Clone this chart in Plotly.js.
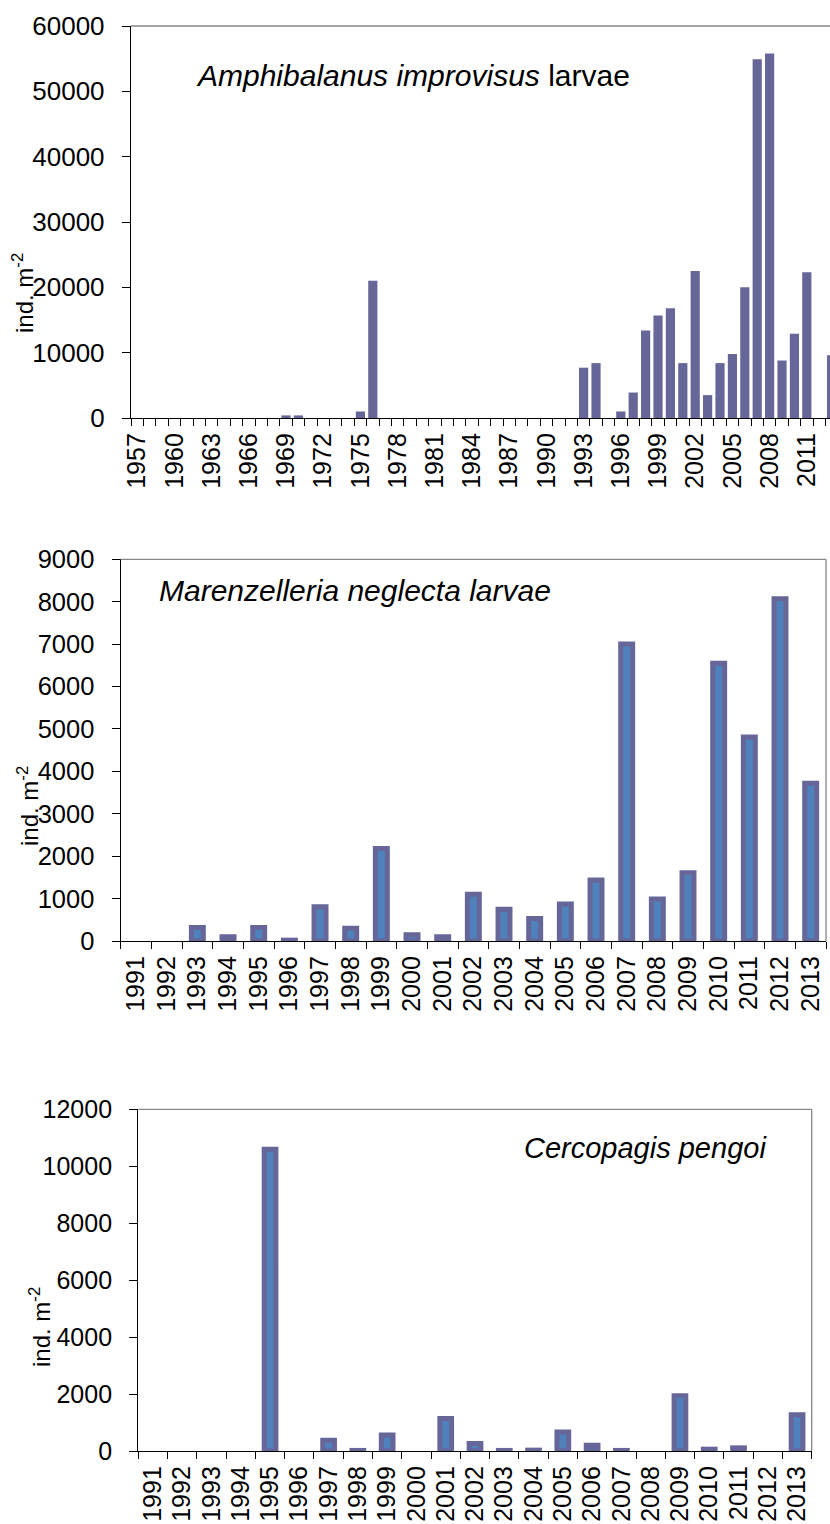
<!DOCTYPE html>
<html>
<head>
<meta charset="utf-8">
<script src="https://cdn.plot.ly/plotly-3.0.1.min.js"></script>
<style>html,body{margin:0;padding:0;background:#fff;}#chart{width:830px;height:1524px;}</style>
</head>
<body>
<div id="chart"></div>
<script>
// ---------- DATA ----------
const yearsAmph = ["1957","1958","1959","1960","1961","1962","1963","1964","1965","1966","1967","1968","1969","1970","1971","1972","1973","1974","1975","1976","1977","1978","1979","1980","1981","1982","1983","1984","1985","1986","1987","1988","1989","1990","1991","1992","1993","1994","1995","1996","1997","1998","1999","2000","2001","2002","2003","2004","2005","2006","2007","2008","2009","2010","2011","2012","2013"];
const amphValues = [0,0,0,0,0,0,0,0,0,0,0,0,400,400,0,0,0,0,1000,21000,0,0,0,0,0,0,0,0,0,0,0,0,0,0,0,0,7700,8400,0,1000,3900,13400,15700,16800,8400,22500,3500,8400,9800,20000,54900,55800,8800,12900,22300,0,9600];
const amphTickLabels = ["1957","1960","1963","1966","1969","1972","1975","1978","1981","1984","1987","1990","1993","1996","1999","2002","2005","2008","2011"];

const yearsRecent = ["1991","1992","1993","1994","1995","1996","1997","1998","1999","2000","2001","2002","2003","2004","2005","2006","2007","2008","2009","2010","2011","2012","2013"];
const marValues = [0,0,320,100,320,20,810,300,2180,150,100,1100,750,530,870,1440,7000,990,1610,6550,4810,8070,3720];
const cerValues = [0,0,0,0,10600,0,380,20,560,0,1140,260,20,30,670,200,20,0,1940,64,110,0,1270];

const titleAmph = "<i>Amphibalanus improvisus</i> larvae";
const titleMar = "<i>Marenzelleria neglecta larvae</i>";
const titleCer = "<i>Cercopagis pengoi</i>";
const yTitle = "ind. m<sup>-2</sup>";

// ---------- LAYOUT HELPERS ----------
const W = 830, H = 1524;
const px = v => v / W;
const py = v => 1 - v / H;
const FONT = "Arial, 'Liberation Sans', sans-serif";

const amphTickText = yearsAmph.map(y => amphTickLabels.includes(y) ? y : " ");
// zero values are drawn as no bar at all
const noZero = arr => arr.map(v => v === 0 ? null : v);

const traces = [
  {type:'bar', x: yearsAmph, y: noZero(amphValues), xaxis:'x', yaxis:'y',
   marker:{color:'#666699', line:{width:0}}, width:0.74},
  {type:'bar', x: yearsRecent, y: noZero(marValues), xaxis:'x2', yaxis:'y2',
   marker:{color:'#4F81BD', line:{width:5, color:'#666699'}}, width:0.39, cliponaxis:false},
  {type:'bar', x: yearsRecent, y: noZero(cerValues), xaxis:'x3', yaxis:'y3',
   marker:{color:'#4F81BD', line:{width:5, color:'#666699'}}, width:0.40, cliponaxis:false}
];

function xAx(domain, anchor, vals, text, range, size) {
  const a = {
    domain: domain, anchor: anchor, type:'category',
    tickvals: vals, ticktext: text, tickangle: -90, tickson:'boundaries',
    ticks:'outside', ticklen:7, tickwidth:1, tickcolor:'#000',
    showline:true, linecolor:'#000', linewidth:1.2, showgrid:false, zeroline:false,
    tickfont:{family:FONT, size:size, color:'#000'}, ticklabelstandoff:4, fixedrange:true
  };
  if (range) a.range = range;
  return a;
}
function yAx(domain, anchor, max, dtick, size) {
  return {
    domain: domain, anchor: anchor, range:[0,max], dtick: dtick, tick0:0,
    tickformat:'d', ticks:'outside', ticklen:8, tickwidth:1, tickcolor:'#000',
    showline:true, linecolor:'#000', linewidth:1.2, showgrid:false, zeroline:false,
    tickfont:{family:FONT, size:size, color:'#000'}, ticklabelstandoff:12, fixedrange:true
  };
}

const border = (xr, yr, right) => {
  const s = [{type:'line', xref: xr+' domain', yref: yr+' domain', x0:0, x1:1, y0:1, y1:1,
              line:{color:'#868686', width:1.3}}];
  if (right) s.push({type:'line', xref: xr+' domain', yref: yr+' domain', x0:1, x1:1, y0:0, y1:1,
              line:{color:'#868686', width:1.3}});
  return s;
};

const ann = (text, x, y, size, angle) => ({
  text: text, xref:'paper', yref:'paper', x: px(x), y: py(y), xanchor:'center', yanchor:'middle',
  showarrow:false, textangle: angle || 0, font:{family:FONT, size:size, color:'#000'}
});

const layout = {
  width: W, height: H, margin:{l:0, r:0, t:0, b:0}, showlegend:false,
  paper_bgcolor:'#fff', plot_bgcolor:'rgba(0,0,0,0)',
  xaxis:  xAx([px(131), 1], 'y', yearsAmph, amphTickText, [-0.5, 55.87], 25),
  yaxis:  yAx([py(418), py(26)], 'x', 60000, 10000, 26),
  xaxis2: xAx([px(120.7), px(826)], 'y2', yearsRecent, yearsRecent, null, 25),
  yaxis2: yAx([py(941), py(559.3)], 'x2', 9000, 1000, 25.5),
  xaxis3: xAx([px(138.3), px(811.7)], 'y3', yearsRecent, yearsRecent, null, 25),
  yaxis3: yAx([py(1451), py(1109.3)], 'x3', 12000, 2000, 25),
  shapes: [].concat(border('x','y',false), border('x2','y2',true), border('x3','y3',true)),
  annotations: [
    ann(titleAmph, 413, 76, 30),
    ann(titleMar, 355, 590, 30),
    ann(titleCer, 645, 1148, 29),
    ann(yTitle, 23, 293, 24, -90),
    ann(yTitle, 28, 806, 24, -90),
    ann(yTitle, 40, 1327, 24, -90)
  ]
};

Plotly.newPlot('chart', traces, layout, {displayModeBar:false, staticPlot:true});
</script>
</body>
</html>
